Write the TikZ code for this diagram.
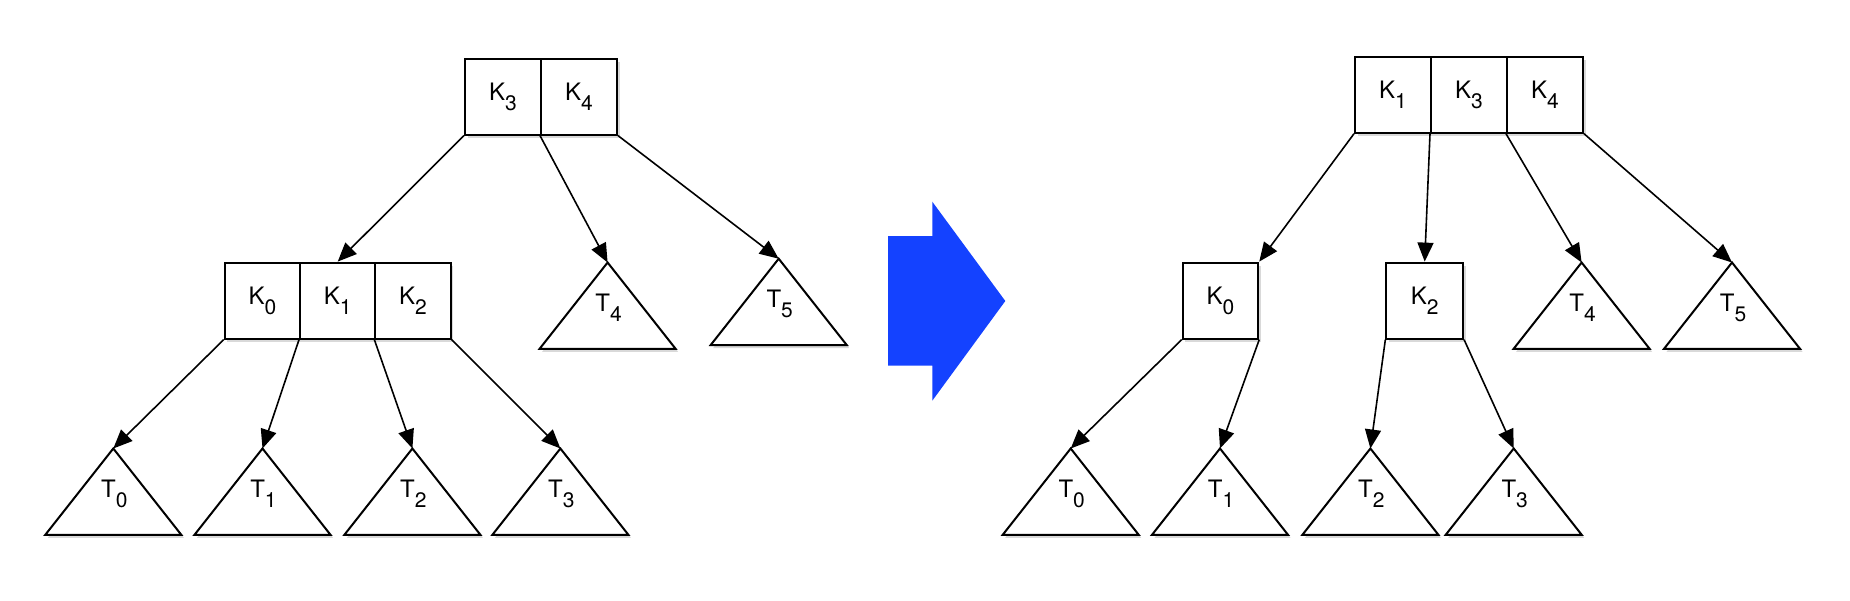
\documentclass[tikz,border=0pt]{standalone}
\usepackage{fontspec}
\setmainfont{TeX Gyre Heros}
\usetikzlibrary{arrows.meta,shadows}
\definecolor{arrowblue}{RGB}{20,66,255}
\newcommand{\lab}[2]{#1\raisebox{-10pt}{\fontsize{21}{21}\selectfont #2}}
\tikzset{
  myshadow/.style={drop shadow={shadow xshift=2.5pt,shadow yshift=-3pt,fill=black,opacity=0.15}},
  cell/.style={draw,line width=2pt,fill=white,minimum height=76pt,minimum width=76pt,inner sep=0pt,myshadow,font=\fontsize{24}{24}\selectfont},
  tri/.style={draw,line width=2pt,fill=white,line join=miter,myshadow},
  trilab/.style={inner sep=0pt,font=\fontsize{24}{24}\selectfont},
  arr/.style={line width=1.6pt,-{Triangle[length=19pt,width=16pt]}},
}
\newcommand{\tri}[4]{%
  \draw[tri] (#2,#3) -- ++(-68,86.3) -- ++(136,0) -- cycle;
  \coordinate (#1) at (#2,#3);
  \node[trilab] (#1l) at (#2+1,#3+45) {\lab{T}{#4}};
}
\begin{document}
\begin{tikzpicture}[x=1pt,y=-1pt]
\useasboundingbox (0,0) rectangle (1850,600);
% ---------- left tree ----------
\node[cell] (K3) at (503,96.6) {\lab{K}{3}};
\node[cell] (K4) at (579,96.6) {\lab{K}{4}};
\node[cell,minimum width=75.3pt] (K0) at (262.4,300.6) {\lab{K}{0}};
\node[cell,minimum width=75.3pt] (K1) at (337.7,300.6) {\lab{K}{1}};
\node[cell,minimum width=75.3pt] (K2) at (413.0,300.6) {\lab{K}{2}};
\tri{T0}{113.3}{448.5}{0}
\tri{T1}{262.5}{448.5}{1}
\tri{T2}{412.4}{448.5}{2}
\tri{T3}{560.4}{448.5}{3}
\tri{T4}{607.6}{262.5}{4}
\tri{T5}{778.7}{258.7}{5}
\draw[arr] (K3.south west) -- (K1.north);
\draw[arr] (K4.south west) -- (T4);
\draw[arr] (K4.south east) -- (T5);
\draw[arr] (K0.south west) -- (T0);
\draw[arr] (K1.south west) -- (T1);
\draw[arr] (K2.south west) -- (T2);
\draw[arr] (K2.south east) -- (T3);
% ---------- blue arrow ----------
\fill[arrowblue] (888,236) -- (932.3,236) -- (932.3,201.7) -- (1005.3,301) -- (932.3,400.7) -- (932.3,365.7) -- (888,365.7) -- cycle;
% ---------- right tree ----------
\node[cell] (R1) at (1393,94.7) {\lab{K}{1}};
\node[cell] (R3) at (1469,94.7) {\lab{K}{3}};
\node[cell] (R4) at (1545,94.7) {\lab{K}{4}};
\node[cell,minimum width=75.5pt] (R0) at (1220.5,300.6) {\lab{K}{0}};
\node[cell,minimum width=76.7pt] (R2) at (1424.7,300.6) {\lab{K}{2}};
\tri{RT0}{1070.7}{448.5}{0}
\tri{RT1}{1220.0}{448.5}{1}
\tri{RT2}{1370.4}{448.5}{2}
\tri{RT3}{1513.7}{448.5}{3}
\tri{RT4}{1581.6}{262.5}{4}
\tri{RT5}{1732.0}{262.5}{5}
\draw[arr] (R1.south west) -- (R0.north east);
\draw[arr] (R3.south west) -- (R2.north);
\draw[arr] (R4.south west) -- (RT4);
\draw[arr] (R4.south east) -- (RT5);
\draw[arr] (R0.south west) -- (RT0);
\draw[arr] (R0.south east) -- (RT1);
\draw[arr] (R2.south west) -- (RT2);
\draw[arr] (R2.south east) -- (RT3);
\end{tikzpicture}
\end{document}
